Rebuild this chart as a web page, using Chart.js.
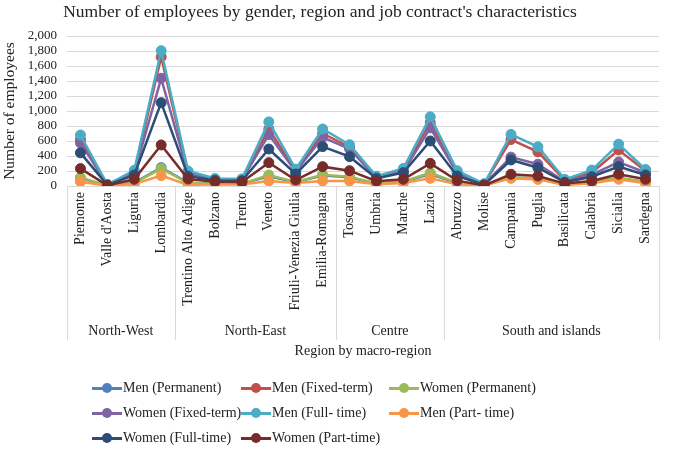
<!DOCTYPE html>
<html>
<head>
<meta charset="utf-8">
<script src="https://cdn.jsdelivr.net/npm/chart.js@4.4.1/dist/chart.umd.min.js"></script>
<style>
  html, body { margin: 0; padding: 0; background: #fff; }
  #wrap { position: relative; width: 685px; height: 476px; }
  #title { position: absolute; left: 0; top: 1px; width: 640px; text-align: center;
    font-family: "Liberation Serif", serif; font-size: 17.5px; color: #222; }
  #legend { position: absolute; left: 92px; top: 378px; width: 480px;
    font-family: "Liberation Serif", serif; font-size: 14px; color: #222; }
  .li { position: absolute; height: 20px; line-height: 20px; white-space: nowrap; }
  .mk { position: absolute; left: 0; top: 9px; width: 30px; height: 2.5px; }
  .dot { position: absolute; left: 10px; top: -4px; width: 10px; height: 10px; border-radius: 50%; }
  .tx { position: absolute; left: 31px; top: 0; }
</style>
</head>
<body>
<div id="wrap">
  <canvas id="c" width="685" height="476"></canvas>
  <div id="title">Number of employees by gender, region and job contract's characteristics</div>
  <div id="legend"></div>
</div>
<script>
const regions = ["Piemonte","Valle d'Aosta","Liguria","Lombardia","Trentino Alto Adige","Bolzano","Trento","Veneto","Friuli-Venezia Giulia","Emilia-Romagna","Toscana","Umbria","Marche","Lazio","Abruzzo","Molise","Campania","Puglia","Basilicata","Calabria","Sicialia","Sardegna"];
const macroRegions = ["North-West","North-East","Centre","South and islands"];
const macroCounts = [4, 6, 4, 8];
const yTicks = [0, 200, 400, 600, 800, 1000, 1200, 1400, 1600, 1800, 2000];

const menPermanent   = [105, 6, 45, 245, 45, 30, 30, 130, 50, 140, 115, 30, 55, 160, 40, 10, 110, 100, 18, 50, 105, 50];
const menFixedTerm   = [620, 18, 180, 1720, 180, 90, 85, 760, 200, 700, 520, 120, 210, 845, 180, 25, 620, 455, 75, 180, 480, 200];
const womenPermanent = [115, 5, 40, 230, 40, 30, 30, 147, 55, 150, 125, 35, 60, 175, 45, 10, 115, 105, 20, 55, 110, 55];
const womenFixedTerm = [575, 15, 170, 1436, 160, 85, 80, 685, 190, 650, 495, 110, 190, 775, 170, 20, 385, 290, 60, 150, 320, 180];
const menFullTime    = [680, 20, 210, 1804, 200, 100, 95, 855, 225, 760, 550, 130, 235, 922, 205, 30, 688, 522, 88, 212, 558, 220];
const menPartTime    = [58, 4, 25, 138, 15, 22, 20, 67, 40, 67, 67, 22, 40, 102, 22, 8, 102, 88, 15, 36, 90, 36];
const womenFullTime  = [442, 12, 147, 1111, 130, 75, 70, 493, 160, 525, 391, 100, 178, 600, 133, 15, 347, 244, 50, 124, 258, 147];
const womenPartTime  = [232, 8, 89, 547, 93, 57, 52, 311, 80, 258, 204, 65, 89, 302, 71, 8, 156, 133, 32, 67, 156, 89];

const seriesNames = ["Men (Permanent)","Men (Fixed-term)","Women (Permanent)","Women (Fixed-term)","Men (Full- time)","Men (Part- time)","Women (Full-time)","Women (Part-time)"];
const seriesData = [menPermanent, menFixedTerm, womenPermanent, womenFixedTerm, menFullTime, menPartTime, womenFullTime, womenPartTime];
const seriesColors = ["#4F81BD","#C0504D","#9BBB59","#8064A2","#4BACC6","#F79646","#2C4D75","#772C2A"];

const FONT = "Liberation Serif";

const datasets = seriesNames.map((n, i) => ({
  label: n,
  data: seriesData[i],
  borderColor: seriesColors[i],
  backgroundColor: seriesColors[i],
  pointBackgroundColor: seriesColors[i],
  pointBorderColor: seriesColors[i],
  borderWidth: 2.5,
  pointRadius: 5,
  pointBorderWidth: 1,
  tension: 0,
  order: seriesNames.length - i
}));

const groupPlugin = {
  id: 'groups',
  afterDraw(chart) {
    const ctx = chart.ctx;
    const x = chart.scales.x;
    const area = chart.chartArea;
    const half = (x.getPixelForValue(1) - x.getPixelForValue(0)) / 2;
    ctx.save();
    ctx.strokeStyle = '#D9D9D9';
    ctx.lineWidth = 1;
    ctx.beginPath();
    ctx.moveTo(area.left, Math.round(area.bottom) + 0.5);
    ctx.lineTo(area.right, Math.round(area.bottom) + 0.5);
    ctx.stroke();
    let start = 0;
    const bounds = [0];
    macroCounts.forEach(c => { start += c; bounds.push(start); });
    bounds.forEach(b => {
      const px = Math.round(x.getPixelForValue(b) - half) + 0.5;
      ctx.beginPath();
      ctx.moveTo(px, area.bottom);
      ctx.lineTo(px, 340);
      ctx.stroke();
    });
    ctx.fillStyle = '#222';
    ctx.font = '14px "' + FONT + '"';
    ctx.textAlign = 'center';
    ctx.textBaseline = 'middle';
    for (let g = 0; g < macroRegions.length; g++) {
      const a = x.getPixelForValue(bounds[g]) - half;
      const b = x.getPixelForValue(bounds[g + 1]) - half;
      ctx.fillText(macroRegions[g], (a + b) / 2, 331);
    }
    ctx.fillText('Region by macro-region', (area.left + area.right) / 2, 351);
    ctx.restore();
  }
};

new Chart(document.getElementById('c'), {
  type: 'line',
  data: { labels: regions, datasets },
  options: {
    responsive: false,
    animation: false,
    layout: { padding: { top: 36, right: 26, left: 0, bottom: 0 } },
    plugins: { legend: { display: false }, title: { display: false }, tooltip: { enabled: false } },
    scales: {
      x: {
        offset: true,
        grid: { display: false, drawTicks: false },
        border: { display: false },
        ticks: {
          autoSkip: false, maxRotation: 90, minRotation: 90, padding: 6,
          color: '#222', font: { family: FONT, size: 14 }
        },
        afterFit(s) { s.height = 290; }
      },
      y: {
        min: 0, max: 2000,
        afterBuildTicks(s) { s.ticks = yTicks.map(v => ({ value: v })); },
        grid: { color: '#D9D9D9', lineWidth: 1, drawTicks: false },
        border: { display: false },
        ticks: {
          autoSkip: false,
          padding: 10, color: '#222', font: { family: FONT, size: 13 },
          callback: v => v.toLocaleString('en-US')
        },
        title: { display: true, text: 'Number of employees', color: '#222',
          font: { family: FONT, size: 15.5 }, padding: { top: 1, bottom: 0 } },
        afterFit(s) { s.width = 67; }
      }
    }
  },
  plugins: [groupPlugin]
});

const leg = document.getElementById('legend');
const colX = [0, 149, 297];
seriesNames.forEach((n, i) => {
  const r = Math.floor(i / 3), c = i % 3;
  const d = document.createElement('div');
  d.className = 'li';
  d.style.left = colX[c] + 'px';
  d.style.top = (r * 25) + 'px';
  d.innerHTML = '<span class="mk" style="background:' + seriesColors[i] + '"><span class="dot" style="background:' + seriesColors[i] + '"></span></span><span class="tx"></span>';
  d.querySelector('.tx').textContent = n;
  leg.appendChild(d);
});
</script>
</body>
</html>
